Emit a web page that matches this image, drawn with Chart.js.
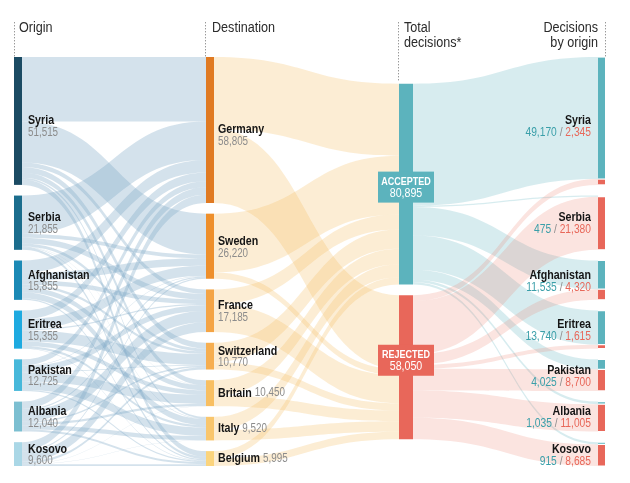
<!DOCTYPE html>
<html>
<head>
<meta charset="utf-8">
<script src="https://cdn.jsdelivr.net/npm/chart.js@4.4.1/dist/chart.umd.min.js"></script>
<style>
  html, body { margin: 0; padding: 0; background: #fff; }
  canvas { display: block; }
</style>
</head>
<body>
<canvas id="sankey" width="630" height="483"></canvas>
<script>
// ---- data (flows are estimates) ----
const origins = ['Syria', 'Serbia', 'Afghanistan', 'Eritrea', 'Pakistan', 'Albania', 'Kosovo'];
const originTotals = [51515, 21855, 15855, 15355, 12725, 12040, 9600];

const destinations = ['Germany', 'Sweden', 'France', 'Switzerland', 'Britain', 'Italy', 'Belgium'];
const destinationTotals = [58805, 26220, 17185, 10770, 10450, 9520, 5995];

// rows = origins, columns = destinations (same order as above)
const originToDestination = [
  [26000, 16500, 1800, 2300, 2000, 700, 2215],
  [15500, 1500, 2300, 1200, 100, 200, 1055],
  [5000, 3000, 1800, 1000, 2000, 2500, 555],
  [3500, 4000, 500, 4500, 1800, 900, 155],
  [2500, 200, 2300, 300, 3600, 3400, 425],
  [3000, 500, 4500, 600, 900, 1700, 840],
  [3305, 520, 3985, 870, 50, 120, 750]
];

// destination -> decision
const acceptedByDestination = [29000, 23700, 6000, 7800, 6200, 5230, 2965];
const rejectedByDestination = [29805, 2520, 11185, 2970, 4250, 4290, 3030];

const decisions = ['ACCEPTED', 'REJECTED'];
const acceptedByOrigin = [49170, 475, 11535, 13740, 4025, 1035, 915];
const rejectedByOrigin = [2345, 21380, 4320, 1615, 8700, 11005, 8685];

// ---- styles ----
const ORIGIN_COLORS = ['#1b4b63', '#1b6d8d', '#1b89b5', '#1eaae0', '#47b8da', '#7cbfd1', '#aad7e6'];
const DEST_COLORS = ['#e07a22', '#ee8f2b', '#f4a445', '#f6ae50', '#f8bf62', '#f9c66d', '#fbd47d'];
const ACC_COLOR = '#5cb3bd';
const REJ_COLOR = '#e8675a';
const SANS = '"Liberation Sans", Arial, "Roboto", sans-serif';
const SQUEEZE = 0.82; // narrow look of the original type

// column centre (x units = px inside chart area) and bar width
const COLS = [
  { x: 4, w: 8 },
  { x: 196, w: 8 },
  { x: 392, w: 14 },
  { x: 587.5, w: 7 }
];
const GAP = 4300;

const sum = a => a.reduce((s, v) => s + v, 0);
function stackNodes(values, offset) {
  let y = offset;
  return values.map(v => { const r = [y, y + v]; y += v + GAP; return r; });
}

const STACK_MAX = sum(originTotals) + GAP * (originTotals.length - 1);
const decisionTotals = [sum(acceptedByOrigin), sum(rejectedByOrigin)];
const originNodes = stackNodes(originTotals, 0);
const destNodes = stackNodes(destinationTotals, 0);
const decisionNodes = stackNodes(decisionTotals, (STACK_MAX - sum(decisionTotals) - GAP) / 2);
const rightNodes = originNodes.map((n, i) => [
  [n[0], n[0] + acceptedByOrigin[i]],
  [n[0] + acceptedByOrigin[i], n[1]]
]);

function band(ctx, x0, x1, a0, a1, b0, b1) {
  const xm = (x0 + x1) / 2;
  ctx.beginPath();
  ctx.moveTo(x0, a0);
  ctx.bezierCurveTo(xm, a0, xm, b0, x1, b0);
  ctx.lineTo(x1, b1);
  ctx.bezierCurveTo(xm, b1, xm, a1, x0, a1);
  ctx.closePath();
  ctx.fill();
}

// narrow text: draws and returns the drawn width
function label(ctx, str, xp, yp, font, color, align, squeeze = SQUEEZE) {
  ctx.save();
  ctx.font = font;
  ctx.fillStyle = color;
  ctx.textAlign = align;
  ctx.textBaseline = 'middle';
  ctx.translate(xp, yp);
  ctx.scale(squeeze, 1);
  ctx.fillText(str, 0, 0);
  const w = ctx.measureText(str).width * squeeze;
  ctx.restore();
  return w;
}

const flowPlugin = {
  id: 'flows',
  beforeDatasetsDraw(chart) {
    const { ctx, scales: { x, y } } = chart;
    const rightEdge = c => x.getPixelForValue(COLS[c].x) + COLS[c].w / 2;
    const leftEdge = c => x.getPixelForValue(COLS[c].x) - COLS[c].w / 2;
    const py = v => y.getPixelForValue(v);
    ctx.save();

    // origin -> destination
    ctx.fillStyle = 'rgba(120,165,195,0.32)';
    const outOff = originNodes.map(n => n[0]);
    const inOff = destNodes.map(n => n[0]);
    originToDestination.forEach((row, i) => row.forEach((v, j) => {
      band(ctx, rightEdge(0), leftEdge(1),
        py(outOff[i]), py(outOff[i] + v), py(inOff[j]), py(inOff[j] + v));
      outOff[i] += v; inOff[j] += v;
    }));

    // destination -> decision
    ctx.fillStyle = 'rgba(245,185,90,0.26)';
    const dOff = destNodes.map(n => n[0]);
    const kOff = decisionNodes.map(n => n[0]);
    destinations.forEach((d, j) => {
      [acceptedByDestination[j], rejectedByDestination[j]].forEach((v, k) => {
        band(ctx, rightEdge(1), leftEdge(2),
          py(dOff[j]), py(dOff[j] + v), py(kOff[k]), py(kOff[k] + v));
        dOff[j] += v; kOff[k] += v;
      });
    });

    // decision -> origin
    const sOff = decisionNodes.map(n => n[0]);
    [acceptedByOrigin, rejectedByOrigin].forEach((vals, k) => {
      ctx.fillStyle = k === 0 ? 'rgba(110,185,196,0.28)' : 'rgba(236,120,100,0.2)';
      vals.forEach((v, i) => {
        const t = rightNodes[i][k];
        band(ctx, rightEdge(2), leftEdge(3),
          py(sOff[k]), py(sOff[k] + v), py(t[0]), py(t[1]));
        sOff[k] += v;
      });
    });
    ctx.restore();
  },
  afterDatasetsDraw(chart) {
    const { ctx, scales: { x, y } } = chart;
    const py = v => y.getPixelForValue(v);
    const fmt = v => v.toLocaleString('en-US');
    const NAME_FONT = 'bold 13px ' + SANS;
    const VALUE_FONT = '12px ' + SANS;
    const NAME_COLOR = '#151515';
    const VALUE_COLOR = '#8c8c8c';

    const rows = node => {
      const top = py(node[0]), bot = py(node[1]);
      const c = (top + bot) / 2, h = bot - top;
      return h > 100 ? [c - 1, c + 12] : [c - 5, c + 7];
    };

    // origin labels
    origins.forEach((name, i) => {
      const [ny, vy] = rows(originNodes[i]);
      label(ctx, name, 28, ny, NAME_FONT, NAME_COLOR, 'left');
      label(ctx, fmt(originTotals[i]), 28, vy, VALUE_FONT, VALUE_COLOR, 'left');
    });

    // destination labels
    const inline = ['Britain', 'Italy', 'Belgium'];
    destinations.forEach((name, j) => {
      const n = destNodes[j];
      if (inline.includes(name)) {
        const c = (py(n[0]) + py(n[1])) / 2;
        const w = label(ctx, name, 218, c, NAME_FONT, NAME_COLOR, 'left');
        label(ctx, fmt(destinationTotals[j]), 218 + w + 3, c, VALUE_FONT, VALUE_COLOR, 'left');
      } else {
        const [ny, vy] = rows(n);
        label(ctx, name, 218, ny, NAME_FONT, NAME_COLOR, 'left');
        label(ctx, fmt(destinationTotals[j]), 218, vy, VALUE_FONT, VALUE_COLOR, 'left');
      }
    });

    // right labels
    origins.forEach((name, i) => {
      const [ny, vy] = rows(originNodes[i]);
      label(ctx, name, 591, ny, NAME_FONT, NAME_COLOR, 'right');
      const parts = [[fmt(acceptedByOrigin[i]), '#3a9fa9'], [' / ', '#8c8c8c'], [fmt(rejectedByOrigin[i]), '#e8685a']];
      let xp = 591;
      for (let p = parts.length - 1; p >= 0; p--) {
        xp -= label(ctx, parts[p][0], xp, vy, '12.5px ' + SANS, parts[p][1], 'right');
      }
    });

    // decision boxes
    const boxShift = [3, -7];
    decisions.forEach((text, k) => {
      const n = decisionNodes[k];
      const c = (py(n[0]) + py(n[1])) / 2 + boxShift[k];
      const cx = x.getPixelForValue(COLS[2].x);
      ctx.fillStyle = k === 0 ? ACC_COLOR : REJ_COLOR;
      ctx.fillRect(cx - 28, c - 15.5, 56, 31);
      label(ctx, text, cx, c - 5.5, 'bold 11px ' + SANS, '#fff', 'center');
      label(ctx, fmt(decisionTotals[k]), cx, c + 6.5, '13px ' + SANS, '#fff', 'center');
    });

    // headers and dotted rules
    ctx.save();
    const dotted = (xp, y0, y1) => {
      ctx.fillStyle = '#999';
      for (let yy = y0; yy <= y1; yy += 3) ctx.fillRect(xp, yy, 1, 1.4);
    };
    dotted(14, 22, 55);
    dotted(205, 22, 55);
    dotted(398, 22, 80);
    dotted(605, 22, 55);
    ctx.restore();
    const HEAD_FONT = '14px ' + SANS;
    const HEAD_COLOR = '#2b2b2b';
    const hs = 0.9;
    label(ctx, 'Origin', 19, 28, HEAD_FONT, HEAD_COLOR, 'left', hs);
    label(ctx, 'Destination', 212, 28, HEAD_FONT, HEAD_COLOR, 'left', hs);
    label(ctx, 'Total', 404, 28, HEAD_FONT, HEAD_COLOR, 'left', hs);
    label(ctx, 'decisions*', 404, 43, HEAD_FONT, HEAD_COLOR, 'left', hs);
    label(ctx, 'Decisions', 598, 28, HEAD_FONT, HEAD_COLOR, 'right', hs);
    label(ctx, 'by origin', 598, 43, HEAD_FONT, HEAD_COLOR, 'right', hs);
  }
};

new Chart(document.getElementById('sankey'), {
  type: 'bar',
  data: {
    datasets: [
      { data: originNodes.map(n => ({ x: COLS[0].x, y: n })), backgroundColor: ORIGIN_COLORS, maxBarThickness: COLS[0].w },
      { data: destNodes.map(n => ({ x: COLS[1].x, y: n })), backgroundColor: DEST_COLORS, maxBarThickness: COLS[1].w },
      { data: decisionNodes.map(n => ({ x: COLS[2].x, y: n })), backgroundColor: [ACC_COLOR, REJ_COLOR], maxBarThickness: COLS[2].w },
      {
        data: rightNodes.flat().map(n => ({ x: COLS[3].x, y: n })),
        backgroundColor: rightNodes.flatMap(() => [ACC_COLOR, REJ_COLOR]),
        borderColor: '#fff',
        borderWidth: { top: 0.6, bottom: 0.6, left: 0, right: 0 },
        borderSkipped: false,
        maxBarThickness: COLS[3].w
      }
    ]
  },
  options: {
    responsive: false,
    animation: false,
    events: [],
    layout: { padding: { left: 14, right: 25, top: 57, bottom: 17 } },
    datasets: { bar: { grouped: false, borderWidth: 0 } },
    plugins: { legend: { display: false }, tooltip: { enabled: false } },
    scales: {
      x: { type: 'linear', min: 0, max: 591, display: false, offset: false },
      y: { type: 'linear', min: 0, max: STACK_MAX, reverse: true, display: false }
    }
  },
  plugins: [flowPlugin]
});
</script>
</body>
</html>
